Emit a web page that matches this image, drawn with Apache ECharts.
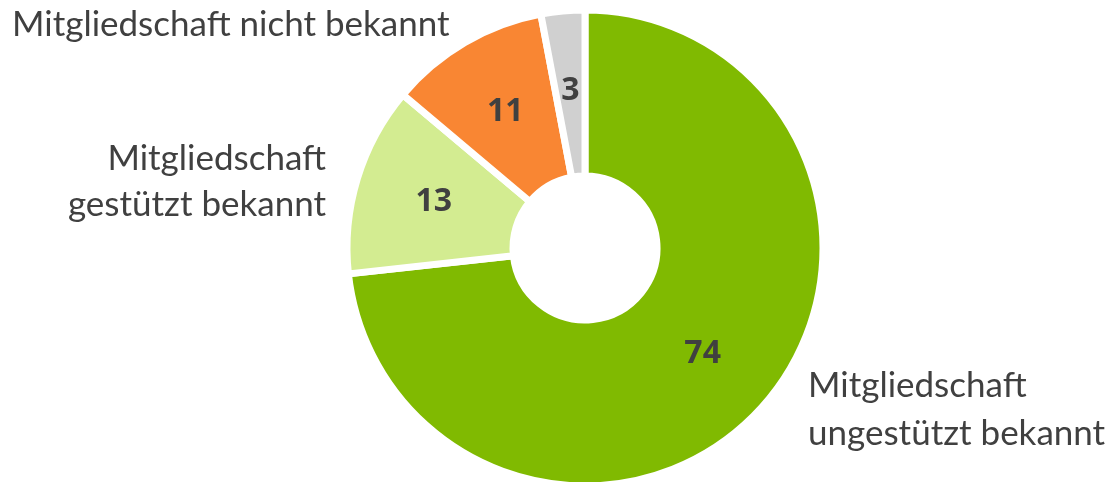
<!DOCTYPE html>
<html>
<head>
<meta charset="utf-8">
<script src="https://cdn.jsdelivr.net/npm/echarts@6/dist/echarts.min.js"></script>
<style>
  html, body { margin: 0; padding: 0; background: #fff; }
  #chart { width: 1105px; height: 482px; }
</style>
</head>
<body>
<div id="chart"></div>
<script>
// Bekanntheit der Mitgliedschaft (in %), Reihenfolge im Uhrzeigersinn ab 12 Uhr
const names = [
  "Mitgliedschaft\nungestützt bekannt",
  "Mitgliedschaft\ngestützt bekannt",
  "Mitgliedschaft nicht bekannt",
  "keine Angabe"
];
const values = [74, 13, 11, 3];
const colors = ["#80BA01", "#D3EC91", "#F98633", "#D0D0D0"];

const textColor = "#404040";
const labelFont = "35px Lato";

const myChart = echarts.init(document.getElementById("chart"));

myChart.setOption({
  animation: false,
  series: [
    {
      type: "pie",
      center: [585, 248],
      radius: [72, 238],
      startAngle: 90,
      clockwise: true,
      silent: true,
      itemStyle: {
        borderColor: "#fff",
        borderWidth: 7
      },
      label: {
        show: true,
        position: "inside",
        formatter: "{c}",
        color: textColor,
        fontFamily: "Open Sans",
        fontWeight: "bold",
        fontSize: 32
      },
      labelLine: { show: false },
      data: values.map((v, i) => ({
        name: names[i],
        value: v,
        itemStyle: { color: colors[i] }
      }))
    }
  ],
  // Kategorienamen neben dem Ring (die graue Scheibe hat keinen)
  graphic: [
    {
      type: "text",
      left: 12,
      top: 7,
      style: { text: names[2], fill: textColor, font: labelFont }
    },
    {
      type: "text",
      right: 1105 - 326,
      top: 136,
      style: {
        text: names[1],
        fill: textColor,
        font: labelFont,
        textAlign: "right",
        lineHeight: 46
      }
    },
    {
      type: "text",
      left: 808,
      top: 362,
      style: {
        text: names[0],
        fill: textColor,
        font: labelFont,
        lineHeight: 48
      }
    }
  ]
});
</script>
</body>
</html>
